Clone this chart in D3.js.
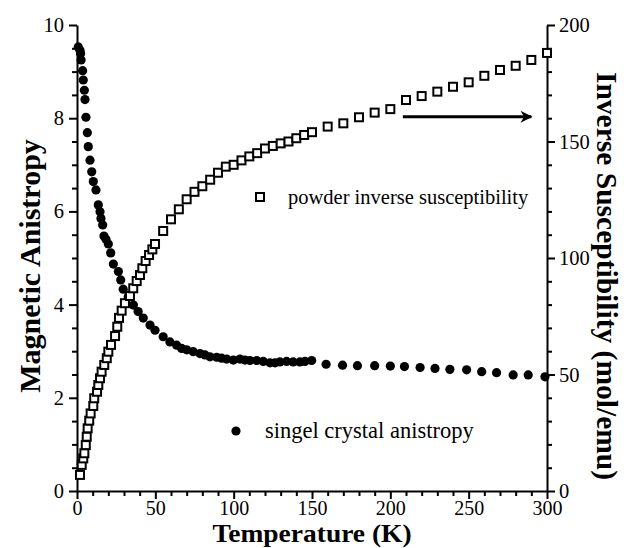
<!DOCTYPE html>
<html>
<head>
<meta charset="utf-8">
<script src="https://cdn.jsdelivr.net/npm/d3@7"></script>
<style>
body { margin: 0; background: #fff; }
</style>
</head>
<body>
<div id="chart"></div>
<script>
var w = 626,
	h = 548,
	margin = {top: 25, right: 79, bottom: 57, left: 77};

// single crystal anisotropy (left axis)
var anisoT = [0.8, 1.9, 2.3, 2.6, 3.6, 4.0, 4.7, 5.1, 5.7, 6.6, 7.2, 8.3, 9.4, 10.4, 12.1, 13.6, 14.7, 15.3,
	16.4, 17.2, 18.5, 20.0, 21.5, 23.2, 26.4, 27.9, 29.5, 32.7, 36.0, 39.0, 42.3, 46.6, 49.8, 55.0, 59.3, 63.6,
	66.8, 70.0, 74.2, 78.5, 81.7, 84.9, 89.2, 92.3, 95.5, 99.8, 104.0, 107.2, 110.4, 114.7, 118.9, 123.2,
	126.4, 129.5, 133.8, 138.0, 142.3, 145.5, 149.8, 159, 169.5, 179, 190, 200, 209, 219, 228.5, 238, 248.7,
	258.3, 267.8, 278.4, 288, 298.7];
var anisoA = [9.53, 9.46, 9.39, 9.25, 9.02, 8.82, 8.6, 8.4, 8.02, 7.69, 7.39, 7.1, 6.85, 6.64, 6.46, 6.14, 5.99, 5.85,
	5.71, 5.47, 5.4, 5.3, 5.11, 4.87, 4.71, 4.53, 4.33, 4.17, 3.99, 3.85, 3.71, 3.56, 3.45, 3.31, 3.2, 3.13,
	3.06, 3.03, 2.99, 2.95, 2.92, 2.88, 2.87, 2.85, 2.83, 2.81, 2.83, 2.81, 2.8, 2.8, 2.78, 2.75,
	2.75, 2.77, 2.78, 2.77, 2.77, 2.78, 2.8, 2.72, 2.70, 2.69, 2.69, 2.68, 2.67, 2.65, 2.63, 2.61, 2.6,
	2.56, 2.54, 2.49, 2.49, 2.45];

// powder inverse susceptibility (right axis)
var suscT = [1.9, 3.0, 4.0, 4.7, 5.6, 6.2, 6.8, 7.8, 8.7, 10.4, 11.0, 12.8, 13.6, 14.7, 15.7, 17.4, 19.0, 20.0,
	21.7, 24.3, 25.7, 26.8, 28.5, 30.6, 33.8, 35.9, 38.1, 40.2, 41.7, 43.8, 46.0, 48.1, 49.8, 55, 60, 65,
	70, 75, 80, 85, 90, 95, 100, 105, 110, 115, 120, 125, 130, 135, 140, 145, 150, 160, 170, 180, 190, 200,
	210, 220, 230, 240, 250, 260, 270, 280, 290, 300];
var suscS = [6.9, 11.2, 14.0, 16.2, 19.7, 23.3, 26.9, 30.2, 33.3, 36.5, 39.8, 42.6, 45.5, 48.4, 51.2, 54.1, 57.0, 59.8,
	62.7, 66.5, 70.5, 74.3, 77.4, 80.6, 83.7, 87.0, 90.1, 92.7, 95.6, 98.7, 101.3, 103.7, 106.0, 111.6, 116.6, 120.9,
	125.2, 128.4, 130.8, 133.6, 136.6, 139.2, 140.0, 141.9, 143.6, 145.0, 147.0, 148.1, 149.2, 150.0, 151.4, 152.8, 154.0,
	156.4, 157.8, 160.4, 162.4, 163.9, 167.8, 169.5, 171.4, 173.5, 175.4, 178.2, 180.7, 182.5, 185.0, 188.0];

var xTicks = [0, 50, 100, 150, 200, 250, 300];
var leftTicks = [0, 2, 4, 6, 8, 10];
var rightTicks = [0, 50, 100, 150, 200];

var xLabel = "Temperature (K)",
	leftLabel = "Magnetic Anistropy",
	rightLabel = "Inverse Susceptibility (mol/emu)",
	suscLegend = "powder inverse susceptibility",
	anisoLegend = "singel crystal anistropy";

var anisoData = anisoT.map(function(t, i) { return {t: t, v: anisoA[i]}; });
var suscData = suscT.map(function(t, i) { return {t: t, v: suscS[i]}; });

var x = d3.scaleLinear().domain([0, 300]).range([margin.left, w - margin.right]);
var yL = d3.scaleLinear().domain([0, 10]).range([h - margin.bottom, margin.top]);
var yR = d3.scaleLinear().domain([0, 200]).range([h - margin.bottom, margin.top]);

var svg = d3.select("#chart")
	.append("svg")
	.attr("width", w)
	.attr("height", h);

var serif = "'Liberation Serif', 'Times New Roman', serif";

function styleAxis(size) {
	return function(g) {
		g.selectAll(".domain").attr("stroke-width", 2);
		g.selectAll(".tick line").attr("stroke-width", 2);
		g.selectAll("text")
			.attr("font-family", serif)
			.attr("font-size", size)
			.attr("fill", "#000");
	};
}

function minorTicks(lo, hi, step, majors) {
	var out = [];
	for (var v = lo; v <= hi + 1e-9; v += step) {
		var r = Math.round(v * 100) / 100;
		if (majors.indexOf(r) < 0) out.push(r);
	}
	return out;
}

function plainTicks(g) {
	g.select(".domain").remove();
	g.selectAll(".tick line").attr("stroke-width", 2);
}

// x axis
svg.append("g")
	.attr("transform", "translate(0," + yL(0) + ")")
	.call(d3.axisBottom(x).tickValues(minorTicks(0, 300, 10, xTicks)).tickSize(5).tickFormat(""))
	.call(plainTicks);
svg.append("g")
	.attr("transform", "translate(0," + yL(0) + ")")
	.call(d3.axisBottom(x).tickValues(xTicks).tickSize(8).tickSizeOuter(0).tickPadding(2))
	.call(styleAxis(20));

// left axis
svg.append("g")
	.attr("transform", "translate(" + x(0) + ",0)")
	.call(d3.axisLeft(yL).tickValues(minorTicks(0, 10, 0.5, leftTicks)).tickSize(5).tickFormat(""))
	.call(plainTicks);
svg.append("g")
	.attr("transform", "translate(" + x(0) + ",0)")
	.call(d3.axisLeft(yL).tickValues(leftTicks).tickSize(8).tickSizeOuter(0).tickPadding(5))
	.call(styleAxis(20.5));

// right axis
svg.append("g")
	.attr("transform", "translate(" + x(300) + ",0)")
	.call(d3.axisRight(yR).tickValues(minorTicks(0, 200, 10, rightTicks)).tickSize(5).tickFormat(""))
	.call(plainTicks);
svg.append("g")
	.attr("transform", "translate(" + x(300) + ",0)")
	.call(d3.axisRight(yR).tickValues(rightTicks).tickSize(8).tickSizeOuter(0).tickPadding(4))
	.call(styleAxis(20.5));

// axis titles
svg.append("text")
	.attr("transform", "translate(" + x(150) + ",542) scale(1.1,1)")
	.attr("text-anchor", "middle")
	.attr("font-family", serif)
	.attr("font-weight", "bold")
	.attr("font-size", 25)
	.text(xLabel);

svg.append("text")
	.attr("transform", "translate(40," + (yL(5) + 8) + ") rotate(-90)")
	.attr("text-anchor", "middle")
	.attr("font-family", serif)
	.attr("font-weight", "bold")
	.attr("font-size", 30)
	.text(leftLabel);

svg.append("text")
	.attr("transform", "translate(597," + (yR(100) + 18) + ") rotate(90)")
	.attr("text-anchor", "middle")
	.attr("font-family", serif)
	.attr("font-weight", "bold")
	.attr("font-size", 29.5)
	.text(rightLabel);

// anisotropy dots
svg.append("g")
	.selectAll("circle")
	.data(anisoData)
	.enter()
	.append("circle")
	.attr("cx", function(d) { return x(d.t); })
	.attr("cy", function(d) { return yL(d.v); })
	.attr("r", 4.6)
	.attr("fill", "#000");

// susceptibility squares
svg.append("g")
	.selectAll("rect")
	.data(suscData)
	.enter()
	.append("rect")
	.attr("x", function(d) { return x(d.t) - 4; })
	.attr("y", function(d) { return yR(d.v) - 4; })
	.attr("width", 8)
	.attr("height", 8)
	.attr("fill", "#fff")
	.attr("stroke", "#000")
	.attr("stroke-width", 2);

// arrow pointing to right axis
var arrowFrom = 208, arrowTo = 290, arrowAt = 160.6;
svg.append("defs").append("marker")
	.attr("id", "head")
	.attr("viewBox", "0 0 10 10")
	.attr("refX", 9)
	.attr("refY", 5)
	.attr("markerWidth", 6)
	.attr("markerHeight", 4)
	.attr("markerUnits", "strokeWidth")
	.attr("orient", "auto")
	.append("path")
	.attr("d", "M0,0 L10,5 L0,10 L3,5 Z")
	.attr("fill", "#000");
svg.append("line")
	.attr("x1", x(arrowFrom))
	.attr("x2", x(arrowTo))
	.attr("y1", yR(arrowAt))
	.attr("y2", yR(arrowAt))
	.attr("stroke", "#000")
	.attr("stroke-width", 3)
	.attr("marker-end", "url(#head)");

// legends
var lg1 = svg.append("g").attr("transform", "translate(260,197)");
lg1.append("rect")
	.attr("x", -4).attr("y", -4)
	.attr("width", 8).attr("height", 8)
	.attr("fill", "#fff").attr("stroke", "#000").attr("stroke-width", 2);
lg1.append("text")
	.attr("x", 28).attr("y", 7)
	.attr("font-family", serif).attr("font-size", 20.5)
	.text(suscLegend);

var lg2 = svg.append("g").attr("transform", "translate(236,431)");
lg2.append("circle").attr("r", 4.6).attr("fill", "#000");
lg2.append("text")
	.attr("x", 29).attr("y", 7)
	.attr("font-family", serif).attr("font-size", 22.5)
	.text(anisoLegend);
</script>
</body>
</html>
